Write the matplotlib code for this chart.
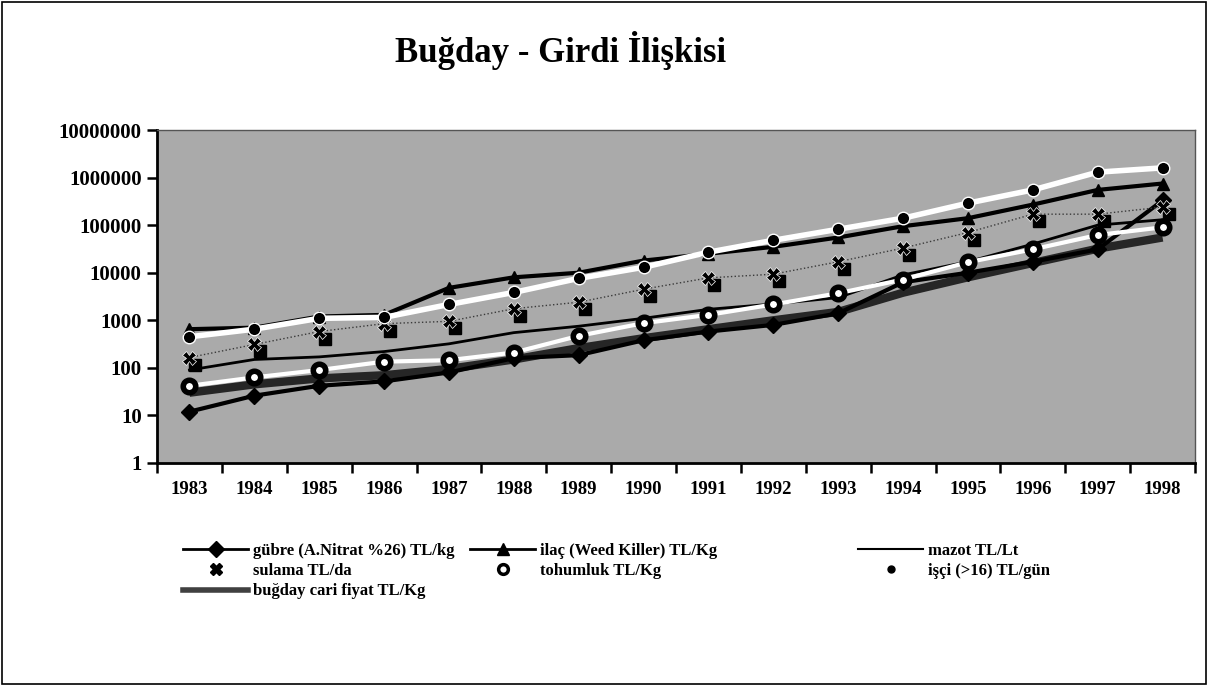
import matplotlib
matplotlib.use("Agg")
import matplotlib.pyplot as plt
from matplotlib.lines import Line2D
from matplotlib.patches import Rectangle
import matplotlib.transforms as mtransforms
import numpy as np

plt.rcParams['font.family'] = ['Liberation Serif', 'DejaVu Serif']
plt.rcParams['font.weight'] = 'bold'

years = ['1983', '1984', '1985', '1986', '1987', '1988', '1989', '1990',
         '1991', '1992', '1993', '1994', '1995', '1996', '1997', '1998']
gubre = [12, 26, 42, 52, 80, 160, 185, 380, 580, 800, 1400, 6300, 10000, 17000, 31000, 330000]
ilac = [650, 700, 1200, 1300, 4800, 8000, 10000, 18000, 25000, 35000, 55000, 95000, 140000, 270000, 550000, 750000]
mazot = [90, 150, 170, 220, 320, 550, 750, 1100, 1700, 2200, 3000, 9000, 17000, 40000, 100000, 130000]
sulama = [165, 310, 580, 850, 950, 1750, 2400, 4500, 7800, 9300, 17000, 33000, 70000, 170000, 170000, 240000]
tohumluk = [42, 63, 90, 135, 145, 210, 470, 870, 1300, 2150, 3700, 7200, 16600, 31000, 62000, 90000]
isci = [450, 650, 1100, 1150, 2150, 3850, 7600, 13000, 27000, 48000, 82000, 140000, 290000, 550000, 1300000, 1600000]
bugday = [30, 45, 60, 70, 95, 150, 260, 420, 650, 1000, 1500, 3800, 8000, 16000, 32000, 55000]

labels = ['gübre (A.Nitrat %26) TL/kg', 'ilaç (Weed Killer) TL/Kg', 'mazot TL/Lt',
          'sulama TL/da', 'tohumluk TL/Kg', 'işçi (>16) TL/gün', 'buğday cari fiyat TL/Kg']
title = 'Buğday - Girdi İlişkisi'
yticks = [1, 10, 100, 1000, 10000, 100000, 1000000, 10000000]

W, H = 1207, 685
fig = plt.figure(figsize=(W / 100, H / 100), dpi=100)
fig.patch.set_facecolor('white')
ax = fig.add_axes([157 / W, 1 - 463 / H, (1195 - 157) / W, (463 - 130) / H])
ax.set_facecolor('#aaaaaa')

x = np.arange(len(years))

# buğday (thick dark band)
ax.plot(x, bugday, color='#262626', lw=6, solid_capstyle='butt', zorder=3)
# gübre
ax.plot(x, gubre, color='black', lw=3, marker='D', ms=8, zorder=4)
# tohumluk (white line, ring markers)
ax.plot(x, tohumluk, color='white', lw=3, zorder=5)
ax.plot(x, tohumluk, ls='none', marker='o', ms=9, mfc='white', mec='black', mew=4, zorder=6)
# mazot
ax.plot(x, mazot, color='black', lw=2, zorder=4)
# sulama (X with square shadow)
ax.plot(x, sulama, color='#3a3a3a', lw=1, ls=':', zorder=4)
shadow = mtransforms.offset_copy(ax.transData, fig=fig, x=6, y=-7, units='dots')
ax.plot(x, sulama, ls='none', marker='s', ms=8, color='black', transform=shadow, zorder=5)
ax.plot(x, sulama, ls='none', marker='X', ms=10, color='black', mec='white', mew=0.5, zorder=6)
# ilaç
ax.plot(x, ilac, color='black', lw=3, marker='^', ms=9, zorder=5)
# işçi (white line, black dots)
ax.plot(x, isci, color='white', lw=4, zorder=6)
ax.plot(x, isci, ls='none', marker='o', ms=9, mfc='black', mec='white', mew=1, zorder=7)

ax.set_yscale('log')
ax.set_ylim(1, 10000000)
ax.set_yticks(yticks)
ax.set_yticklabels([str(v) for v in yticks], fontsize=15, fontweight='bold')
ax.yaxis.set_minor_locator(matplotlib.ticker.NullLocator())
ax.set_xlim(-0.5, len(years) - 0.5)
ax.set_xticks(x)
ax.set_xticklabels(years, fontsize=13.5, fontweight='bold')
ax.set_xticks(np.arange(-0.5, len(years), 1.0), minor=True)
ax.tick_params(axis='x', which='major', length=0, pad=13)
ax.tick_params(axis='x', which='minor', length=7, width=1.8, direction='out')
ax.tick_params(axis='y', which='major', length=7, width=1.8, direction='out', pad=4)
for s in ['top', 'right']:
    ax.spines[s].set_linewidth(1.0)
    ax.spines[s].set_color('#555555')
for s in ['left', 'bottom']:
    ax.spines[s].set_linewidth(2.0)

fig.text(561 / W, 1 - 51 / H, title, fontsize=25, fontweight='bold', ha='center', va='center')

h_gubre = Line2D([], [], color='black', lw=2, marker='D', ms=8)
h_ilac = Line2D([], [], color='black', lw=2, marker='^', ms=8)
h_mazot = Line2D([], [], color='black', lw=1.5)
h_sulama = Line2D([], [], ls='none', marker='X', ms=9, color='black')
h_tohum = Line2D([], [], ls='none', marker='o', ms=7, mfc='white', mec='black', mew=2.5)
h_isci = Line2D([], [], ls='none', marker='o', ms=5, color='black')
h_bugday = Line2D([], [], color='#404040', lw=4)

cols = [([h_gubre, h_sulama, h_bugday], [labels[0], labels[3], labels[6]], 183),
        ([h_ilac, h_tohum], [labels[1], labels[4]], 470),
        ([h_mazot, h_isci], [labels[2], labels[5]], 858)]
for hs, ls_, x0 in cols:
    lg = fig.legend(hs, ls_, loc='upper left', bbox_to_anchor=(x0 / W, 1 - 543 / H),
                    frameon=False, fontsize=12, handlelength=3.9, handletextpad=0.3,
                    labelspacing=0.25, borderpad=0, borderaxespad=0)
    for t in lg.get_texts():
        t.set_fontweight('bold')

fig.add_artist(Rectangle((1.5 / W, 1.5 / H), (W - 3) / W, (H - 3) / H, transform=fig.transFigure,
                         fill=False, edgecolor='black', lw=1.2))

fig.savefig('out.png', dpi=100)
